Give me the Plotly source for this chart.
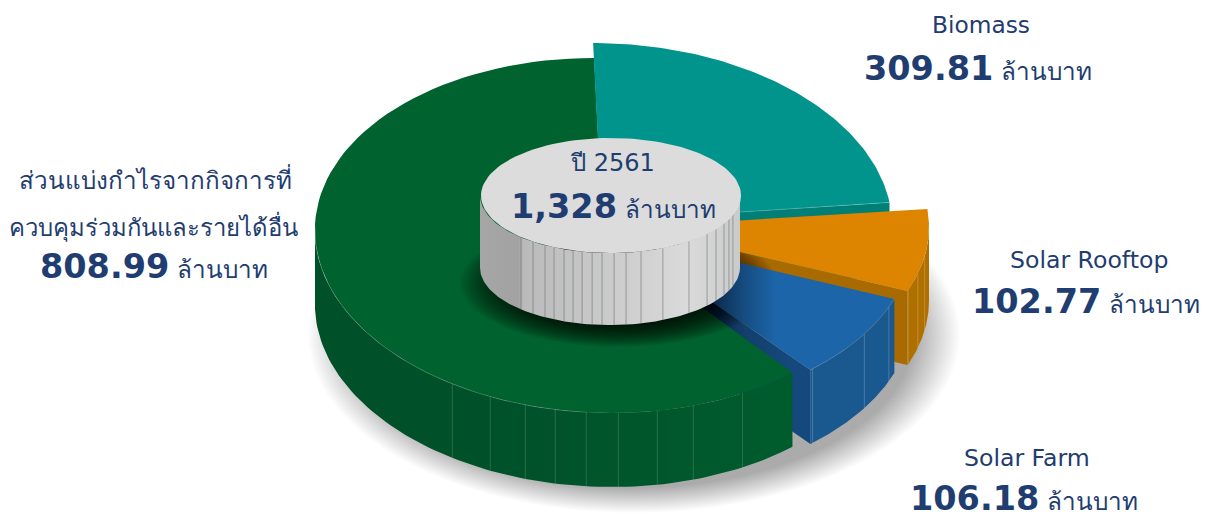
import math
import numpy as np
import plotly.graph_objects as go

# ---- data -----------------------------------------------------------------
categories = ["Biomass", "Solar Rooftop", "Solar Farm", "ส่วนแบ่งกำไรจากกิจการที่<br>ควบคุมร่วมกันและรายได้อื่น"]
values = [309.81, 102.77, 106.18, 808.99]
value_labels = ["309.81", "102.77", "106.18", "808.99"]
center_title = "ปี 2561"
center_value = "1,328"
unit = "ล้านบาท"

# ---- geometry / style (pixels on a 1205x514 axis) ---------------------------
W, H = 1205, 514
DEPTH = 74
GEOM = [
    dict(cx=602, cy=221, rx=290, ry=178, shear=0.05),
    dict(cx=632, cy=227, rx=297, ry=172, shear=0.0),
    dict(cx=612, cy=233, rx=300, ry=177, shear=0.06),
    dict(cx=603, cy=235.5, rx=288, ry=177.5, shear=0.05),
]
TOP = ["#00948c", "#dd8500", "#1c65a8", "#00622f"]
WALL = ["#007f77", "#a96a00", "#15487c", "#004f26"]
OUTER = ["#007f77", "#b07000", "#1a5890", "#005a2c"]
NAVY = "#1f3d70"
HUB = dict(cx=611, cy=195.5, rx=130, ry=57.5, h=72)
HUB_SEAMS = [-43.2, -36.3, -30, -25.5, -20.7, -16.5, -12.4, -7.9, -3.5, 1.8, 7.1,
             13.8, 24, 37.4, 48.3, 54.6, 61.3, 66.2, 71]
GREEN_SEAMS = [-33.3, -24.8, -17.4, -11.3, -5.1, 1.3, 9.1, 16.5, 27.2]
FARM_SEAMS = [0.1, 0.45, 0.98]
ROOF_SEAMS = [0.99, 0.72, 0.45]

total = sum(values)
edges = np.cumsum([0] + values) / total * 360.0
spans = list(zip(edges[:-1], edges[1:]))


def rim(g, deg):
    t = np.radians(deg)
    y0 = -g["ry"] * np.cos(t)
    return g["cx"] + g["rx"] * np.sin(t) + g["shear"] * y0, g["cy"] + y0


def arc(g, a, b, n=90):
    return rim(g, np.linspace(a, b, n))


fig = go.Figure()


def poly(x, y, color=None, grad=None):
    kw = dict(x=list(x), y=list(y), mode="lines", line=dict(width=0), fill="toself",
              hoverinfo="skip", showlegend=False)
    if grad:
        kw["fillgradient"] = grad
    else:
        kw["fillcolor"] = color
    fig.add_trace(go.Scatter(**kw))


def stroke(x, y, color, width=0.7):
    fig.add_trace(go.Scatter(x=list(x), y=list(y), mode="lines", line=dict(color=color, width=width),
                             hoverinfo="skip", showlegend=False))


def sector(g, a, b, color=None, grad=None):
    x, y = arc(g, a, b)
    poly(np.r_[g["cx"], x], np.r_[g["cy"], y], color, grad)


def radial_wall(g, deg, color=None, grad=None):
    x, y = rim(g, deg)
    poly([g["cx"], x, x, g["cx"]], [g["cy"], y, y + DEPTH, g["cy"] + DEPTH], color, grad)


def outer_wall(g, a, b, color=None, grad=None):
    x, y = arc(g, a, b)
    poly(np.r_[x, x[::-1]], np.r_[y, (y + DEPTH)[::-1]], color, grad)


def seam(g, deg, color):
    x, y = rim(g, deg)
    stroke([x, x], [y, y + DEPTH], color)


def hgrad(x0, x1, stops):
    return dict(type="horizontal", start=x0, stop=x1, colorscale=stops)


BIO, ROOF, FARM, OTHER = 0, 1, 2, 3

# soft ground shadow
t = np.linspace(0, 2 * np.pi, 140)
for f in np.linspace(1.0, 0.86, 28):
    poly(634 + 326 * f * np.cos(t), 335 + 178 * f * np.sin(t), "rgba(0,0,0,0.012)")

# radial walls, back to front; the big slice hides part of them
radial_wall(GEOM[BIO], spans[BIO][1], WALL[BIO])
radial_wall(GEOM[ROOF], spans[ROOF][1], WALL[ROOF])
radial_wall(GEOM[FARM], spans[FARM][1],
            grad=hgrad(700, 790, [[0, "#0a2038"], [0.5, "#133f6c"], [1, WALL[FARM]]]))

# big slice
g = GEOM[OTHER]
a, b = spans[OTHER]
outer_wall(g, a, 270, grad=hgrad(315, 792, [[0, "#00502a"], [0.45, "#00522a"], [1, "#005c2d"]]))
sector(g, a, b, TOP[OTHER])
for d in GREEN_SEAMS:
    seam(g, 180 - d, "rgba(255,255,255,0.22)")
x, y = arc(g, 185, 272)
stroke(x, y, "rgba(255,255,255,0.28)", 0.6)

# hub shadow on the big slice
for f in np.linspace(1.0, 0.62, 26):
    poly(618 + 158 * f * np.cos(t), 283 + 64 * f * np.sin(t), "rgba(0,0,0,0.05)")

# biomass
g = GEOM[BIO]
a, b = spans[BIO]
sector(g, a, b, TOP[BIO])
x, y = rim(g, b)
stroke([g["cx"], x], [g["cy"], y], "rgba(255,255,255,0.3)", 0.7)

# rooftop
g = GEOM[ROOF]
a, b = spans[ROOF]
outer_wall(g, 90, b, OUTER[ROOF])
for fr in ROOF_SEAMS:
    seam(g, 90 + fr * (b - 90), "rgba(255,255,255,0.3)")
sector(g, a, b, TOP[ROOF])

# farm
g = GEOM[FARM]
a, b = spans[FARM]
outer_wall(g, a, b, OUTER[FARM])
for fr in FARM_SEAMS:
    seam(g, a + fr * (b - a), "rgba(255,255,255,0.3)")
sector(g, a, b, grad=hgrad(715, 775, [[0, "#0b2c4e"], [0.45, "#154a7e"], [1, TOP[FARM]]]))
x, y = arc(g, a, b)
stroke(x, y, "rgba(255,255,255,0.22)", 0.6)

# central hub
cx, cy, rx, ry, h = HUB["cx"], HUB["cy"], HUB["rx"], HUB["ry"], HUB["h"]
ang = np.radians(np.linspace(90, 270, 120))
xh = cx + rx * np.sin(ang)
yh = cy - ry * np.cos(ang)
poly(np.r_[xh, xh[::-1]] - 1, np.r_[yh, (yh + h)[::-1]],
     grad=hgrad(479, 741, [[0, "#a6a6a6"], [0.15, "#a2a2a2"], [0.17, "#bababa"], [0.5, "#cbcbcb"],
                           [0.8, "#dadada"], [1, "#cacaca"]]))
for d in HUB_SEAMS:
    tt = math.radians(180 - d)
    xs = cx + rx * math.sin(tt) - 1
    ys = cy - ry * math.cos(tt)
    stroke([xs, xs], [ys, ys + h], "rgba(100,110,110,0.7)", 0.8)
poly(cx + rx * np.cos(t), cy + ry * np.sin(t), "#dcdcdc")


# ---- labels -----------------------------------------------------------------
def note(x, y, text, size):
    fig.add_annotation(x=x, y=y, xref="x", yref="y", text=text, showarrow=False, xanchor="center",
                       yanchor="middle", font=dict(family="DejaVu Sans", size=size, color=NAVY))


def amount(val):
    return f"<b>{val}</b><span style='font-size:24.3px'> {unit}</span>"


note(981, 24, categories[BIO], 23.3)
note(977.5, 68, amount(value_labels[BIO]), 33.5)
note(1089, 260, categories[ROOF], 23.6)
note(1085.5, 301, amount(value_labels[ROOF]), 33.5)
note(1027, 458, categories[FARM], 23.6)
note(1023.5, 498, amount(value_labels[FARM]), 33.5)
l1, l2 = categories[OTHER].split("<br>")
note(155, 179, l1, 24.2)
note(153.5, 226, l2, 23.9)
note(153.5, 266, amount(value_labels[OTHER]), 33.5)
note(612, 163, center_title, 24)
note(613, 206, amount(center_value), 33.5)

fig.update_layout(
    width=W, height=H, margin=dict(l=0, r=0, t=0, b=0), showlegend=False,
    paper_bgcolor="white", plot_bgcolor="white",
    xaxis=dict(range=[0, W], visible=False, fixedrange=True),
    yaxis=dict(range=[H, 0], visible=False, fixedrange=True),
)
fig.write_html("out.html", config=dict(displayModeBar=False),
               post_script="document.body.style.margin='0';document.body.style.overflow='hidden';")
